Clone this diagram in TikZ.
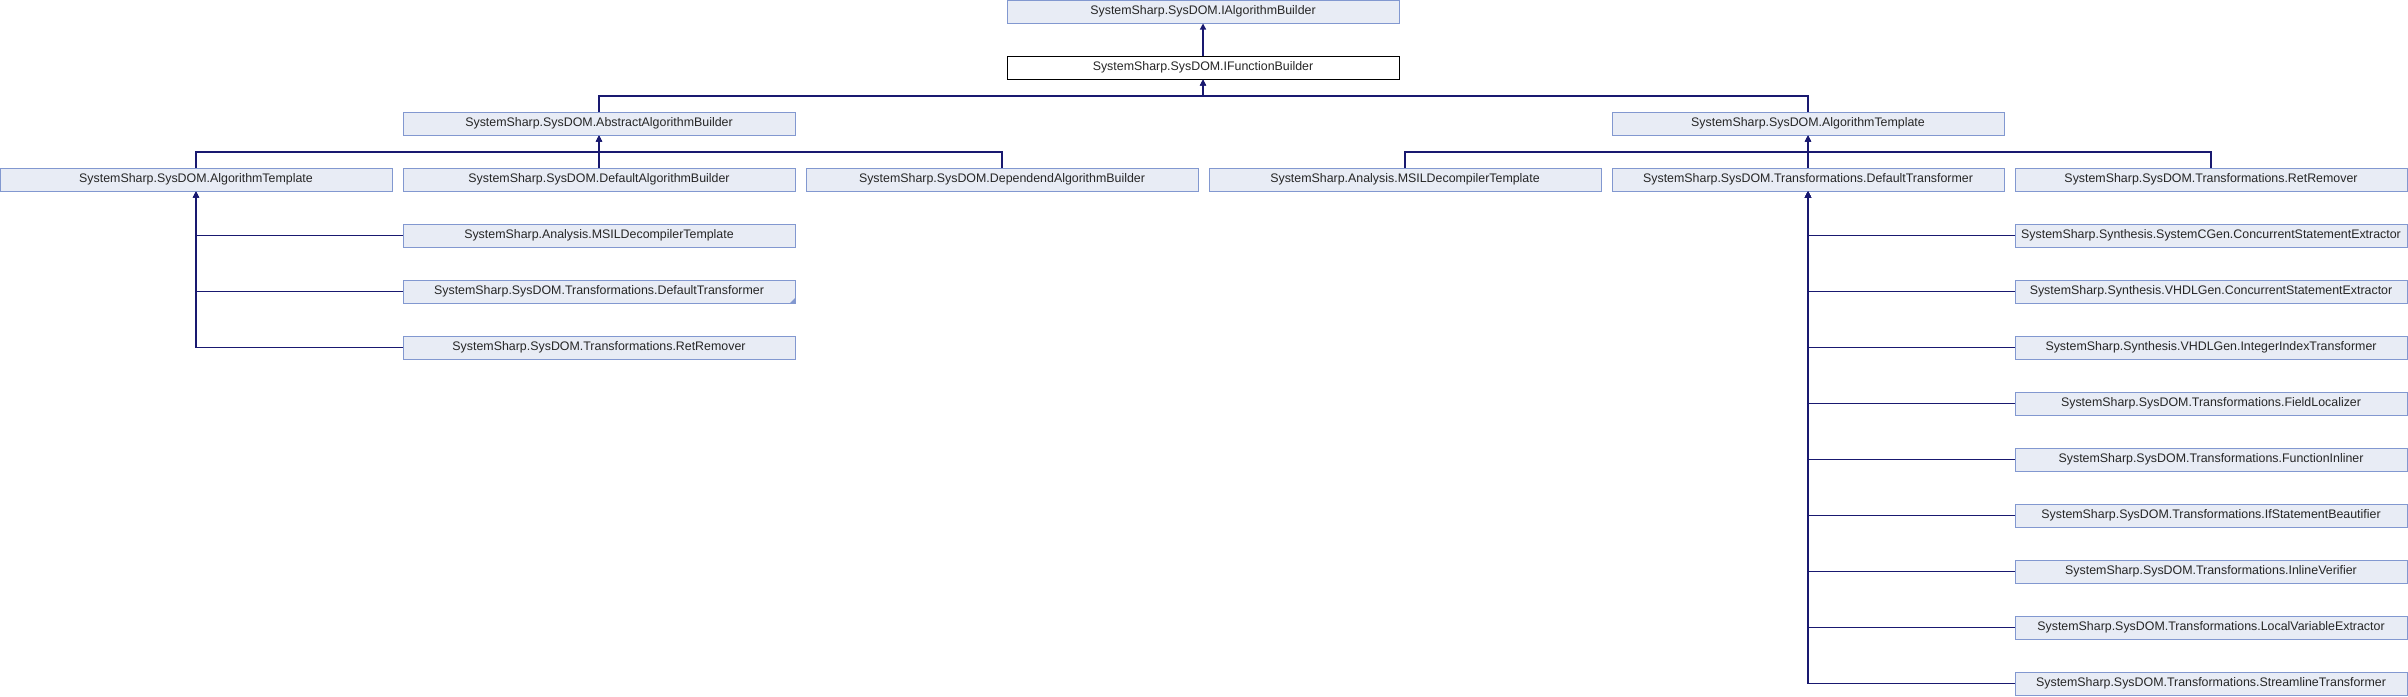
\documentclass[tikz,border=0pt]{standalone}
\usepackage{fontspec}
\setmainfont{Liberation Sans}
\usetikzlibrary{arrows.meta}
\definecolor{boxfill}{HTML}{E8ECF5}
\definecolor{boxline}{HTML}{8298D0}
\definecolor{edgecol}{HTML}{191970}
\tikzset{
  cls/.style={draw=boxline, fill=boxfill, line width=1pt, minimum width=392pt, minimum height=23pt, inner sep=0pt, font=\fontsize{12.4}{14}\selectfont, text=black!85},
  focus/.style={cls, draw=black, fill=white},
  edge/.style={draw=edgecol, line width=1.2pt, -{Triangle[length=6pt,width=6pt]}},
}
\begin{document}
\begin{tikzpicture}[x=1pt,y=-1pt]
\useasboundingbox (0,0) rectangle (2408,696);
% row 0-2
\node[cls] (iab) at (1203,11.5) {SystemSharp.SysDOM.IAlgorithmBuilder};
\node[focus] (ifb) at (1203,67.5) {SystemSharp.SysDOM.IFunctionBuilder};
\node[cls] (aab) at (599,123.5) {SystemSharp.SysDOM.AbstractAlgorithmBuilder};
\node[cls] (atR) at (1808,123.5) {SystemSharp.SysDOM.AlgorithmTemplate};
% row 3
\node[cls] (atL) at (196,179.5) {SystemSharp.SysDOM.AlgorithmTemplate};
\node[cls] (dab) at (599,179.5) {SystemSharp.SysDOM.DefaultAlgorithmBuilder};
\node[cls] (depab) at (1002,179.5) {SystemSharp.SysDOM.DependendAlgorithmBuilder};
\node[cls] (msilR) at (1405,179.5) {SystemSharp.Analysis.MSILDecompilerTemplate};
\node[cls] (dtR) at (1808,179.5) {SystemSharp.SysDOM.Transformations.DefaultTransformer};
\node[cls] (rrR) at (2211,179.5) {SystemSharp.SysDOM.Transformations.RetRemover};
% left subtree
\node[cls] (msilL) at (599,235.5) {SystemSharp.Analysis.MSILDecompilerTemplate};
\node[cls] (dtL) at (599,291.5) {SystemSharp.SysDOM.Transformations.DefaultTransformer};
\node[cls] (rrL) at (599,347.5) {SystemSharp.SysDOM.Transformations.RetRemover};
\fill[boxline] ([xshift=-6pt]dtL.south east) -- (dtL.south east) -- ([yshift=6pt]dtL.south east) -- cycle;
% right subtree
\node[cls] (r1) at (2211,235.5) {SystemSharp.Synthesis.SystemCGen.ConcurrentStatementExtractor};
\node[cls] (r2) at (2211,291.5) {SystemSharp.Synthesis.VHDLGen.ConcurrentStatementExtractor};
\node[cls] (r3) at (2211,347.5) {SystemSharp.Synthesis.VHDLGen.IntegerIndexTransformer};
\node[cls] (r4) at (2211,403.5) {SystemSharp.SysDOM.Transformations.FieldLocalizer};
\node[cls] (r5) at (2211,459.5) {SystemSharp.SysDOM.Transformations.FunctionInliner};
\node[cls] (r6) at (2211,515.5) {SystemSharp.SysDOM.Transformations.IfStatementBeautifier};
\node[cls] (r7) at (2211,571.5) {SystemSharp.SysDOM.Transformations.InlineVerifier};
\node[cls] (r8) at (2211,627.5) {SystemSharp.SysDOM.Transformations.LocalVariableExtractor};
\node[cls] (r9) at (2211,683.5) {SystemSharp.SysDOM.Transformations.StreamlineTransformer};
% edges
\draw[edge] (ifb.north) -- (iab.south);
\foreach \c in {aab,atR}
  \draw[edge] (\c.north) |- ([yshift=-16.5pt]ifb.south) -- (ifb.south);
\foreach \c in {atL,dab,depab}
  \draw[edge] (\c.north) |- ([yshift=-16.5pt]aab.south) -- (aab.south);
\foreach \c in {msilR,dtR,rrR}
  \draw[edge] (\c.north) |- ([yshift=-16.5pt]atR.south) -- (atR.south);
\foreach \c in {msilL,dtL,rrL}
  \draw[edge] (\c.west) -| (atL.south);
\foreach \c in {r1,r2,r3,r4,r5,r6,r7,r8,r9}
  \draw[edge] (\c.west) -| (dtR.south);
\end{tikzpicture}
\end{document}
